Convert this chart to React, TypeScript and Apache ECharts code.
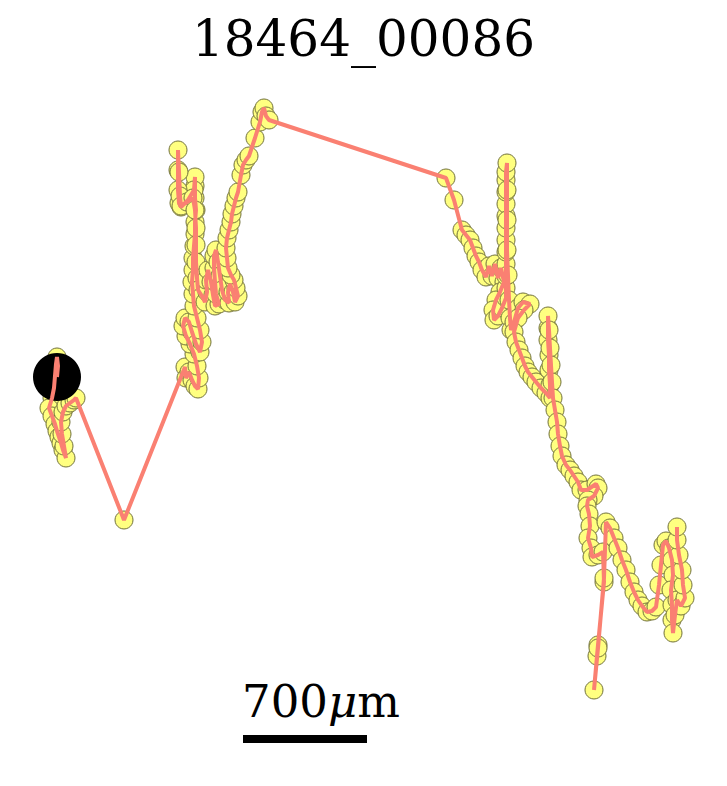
import { useEffect, useRef } from "react";
import * as echarts from "echarts";

// Track positions in the frame's own coordinates (x right, y down), start first.
const START_CLUSTER = [
  [57, 377], [58, 366], [57, 357], [56, 364], [55, 376], [54, 388], [52, 398],
  [49, 408], [52, 416], [55, 424], [57, 431], [59, 437], [61, 443], [63, 450],
  [66, 458], [64, 446], [62, 434], [61, 422], [63, 412], [66, 406], [70, 403],
  [74, 400], [76, 398],
];
const LEFT_JUMP = [[124, 520], [185, 367]];
const LEFT_COLUMN = [
  [186, 378], [189, 372], [192, 380], [195, 386], [198, 389], [199, 378], [197, 366],
  [194, 354], [190, 344], [186, 336], [183, 326], [185, 318], [189, 322], [192, 332],
  [196, 344], [200, 352], [202, 342], [200, 330], [197, 318], [194, 306], [193, 294],
  [192, 282], [193, 270], [193, 258], [194, 246], [195, 234], [195, 222], [196, 210],
  [195, 198], [195, 186], [195, 177],
];
const LEFT_HOOK = [
  [194, 190], [188, 200], [181, 207], [179, 203], [178, 190], [178, 170], [178, 150],
  [179, 172], [180, 196], [181, 206], [187, 202], [193, 198],
  [195, 210], [196, 228], [196, 245], [196, 262], [197, 278], [198, 290],
];
const MIDDLE_KNOT = [
  [202, 296], [205, 302], [207, 292], [206, 280], [208, 270], [211, 282], [213, 295],
  [215, 306], [219, 304], [216, 294], [215, 282], [214, 268], [214, 256], [216, 250],
  [218, 262], [220, 276], [222, 290], [225, 300], [229, 303], [228, 292], [230, 284],
  [233, 292], [235, 302], [238, 296], [236, 288], [234, 280], [231, 275],
];
const CLIMB = [
  [228, 268], [227, 258], [226, 248], [227, 238], [229, 230], [231, 222], [232, 214],
  [234, 206], [236, 198], [238, 192], [241, 175], [243, 165], [246, 160], [249, 156],
  [255, 138], [260, 122], [262, 112], [264, 108], [266, 116], [269, 120],
];
const CROSSING = [[446, 178]];
const RIGHT_UPPER = [
  [454, 200], [462, 230], [466, 235], [470, 240], [473, 248], [476, 256], [479, 262],
  [482, 270], [486, 277], [489, 266], [492, 276], [495, 264], [498, 278], [501, 268],
  [504, 282], [500, 292], [496, 300], [493, 310], [494, 320], [498, 316], [502, 308],
  [506, 298], [506, 288], [506, 276], [506, 264], [506, 252], [506, 240], [506, 228],
  [506, 216], [506, 204], [506, 192], [506, 180], [506, 172], [507, 163],
  [507, 190], [507, 220], [507, 250], [508, 275], [509, 300], [510, 318], [511, 330],
  [514, 322], [518, 308], [523, 302], [530, 304], [524, 310], [518, 318],
];
const DIAGONAL = [
  [514, 332], [516, 342], [519, 350], [522, 358], [525, 366], [528, 372], [532, 377],
  [536, 382], [541, 388], [546, 393], [550, 398],
  [550, 385], [549, 370], [549, 355], [548, 340], [548, 328], [548, 316], [549, 330],
  [550, 348], [551, 365], [552, 382], [553, 398],
  [555, 410], [557, 422], [558, 434], [560, 446], [562, 456], [566, 465], [570, 470],
  [574, 476], [578, 482], [581, 490], [587, 490], [596, 484], [598, 488], [594, 496],
  [588, 500], [587, 506], [589, 514], [590, 526], [588, 538], [591, 548], [592, 557],
];
const RIGHT_LOWER = [
  [598, 555], [603, 552], [604, 582], [598, 645], [597, 656], [594, 690],
  [598, 648], [604, 578], [606, 522], [610, 528], [614, 538], [618, 548], [622, 560],
  [626, 570], [630, 582], [634, 592], [638, 600], [642, 606], [647, 612], [652, 611],
  [656, 607], [659, 585], [661, 565], [663, 545], [666, 541], [669, 548], [672, 560],
  [673, 575], [671, 590], [672, 605], [672, 620], [673, 633], [675, 615], [677, 600],
  [681, 606], [685, 598], [683, 585], [682, 570], [679, 555], [677, 540], [677, 527],
];

const TRACK = [
  ...START_CLUSTER, ...LEFT_JUMP, ...LEFT_COLUMN, ...LEFT_HOOK, ...MIDDLE_KNOT,
  ...CLIMB, ...CROSSING, ...RIGHT_UPPER, ...DIAGONAL, ...RIGHT_LOWER,
];
const START = [57, 377];
const SCALE_BAR = [[243, 739], [367, 739]];
const TITLE = "18464_00086";

const W = 727;
const H = 786;

export default function App() {
  const ref = useRef<HTMLDivElement>(null);
  useEffect(() => {
    if (!ref.current) return;
    const chart = echarts.init(ref.current, undefined, { renderer: "svg" });
    chart.setOption({
      animation: false,
      backgroundColor: "#ffffff",
      title: {
        text: TITLE,
        left: "center",
        top: 9,
        textStyle: { fontFamily: "DejaVu Serif", fontSize: 50, fontWeight: "normal", color: "#000000" },
      },
      grid: { left: 0, right: 0, top: 0, bottom: 0 },
      xAxis: { type: "value", min: 0, max: W, show: false },
      yAxis: { type: "value", min: 0, max: H, inverse: true, show: false },
      graphic: [
        {
          type: "text",
          left: 242,
          top: 679,
          style: {
            text: "{n|700}{mu|μ}{n|m}",
            rich: {
              n: { fontFamily: "DejaVu Serif", fontSize: 45, fill: "#000000" },
              mu: { fontFamily: "DejaVu Serif", fontStyle: "italic", fontSize: 45, fill: "#000000" },
            },
          },
        },
      ],
      series: [
        {
          type: "scatter",
          data: TRACK,
          symbolSize: 18,
          itemStyle: { color: "#ffff80", borderColor: "#70703a", borderWidth: 1, opacity: 1 },
          z: 2,
          silent: true,
        },
        {
          type: "scatter",
          data: [START],
          symbolSize: 48,
          itemStyle: { color: "#000000", opacity: 1 },
          z: 3,
          silent: true,
        },
        {
          type: "line",
          data: TRACK,
          showSymbol: false,
          lineStyle: { color: "#fa8072", width: 4, opacity: 1 },
          z: 4,
          silent: true,
        },
        {
          type: "line",
          data: SCALE_BAR,
          showSymbol: false,
          lineStyle: { color: "#000000", width: 8, cap: "butt" },
          z: 5,
          silent: true,
        },
      ],
    });
    return () => chart.dispose();
  }, []);
  return <div ref={ref} style={{ position: "absolute", left: 0, top: 0, width: W, height: H }} />;
}
